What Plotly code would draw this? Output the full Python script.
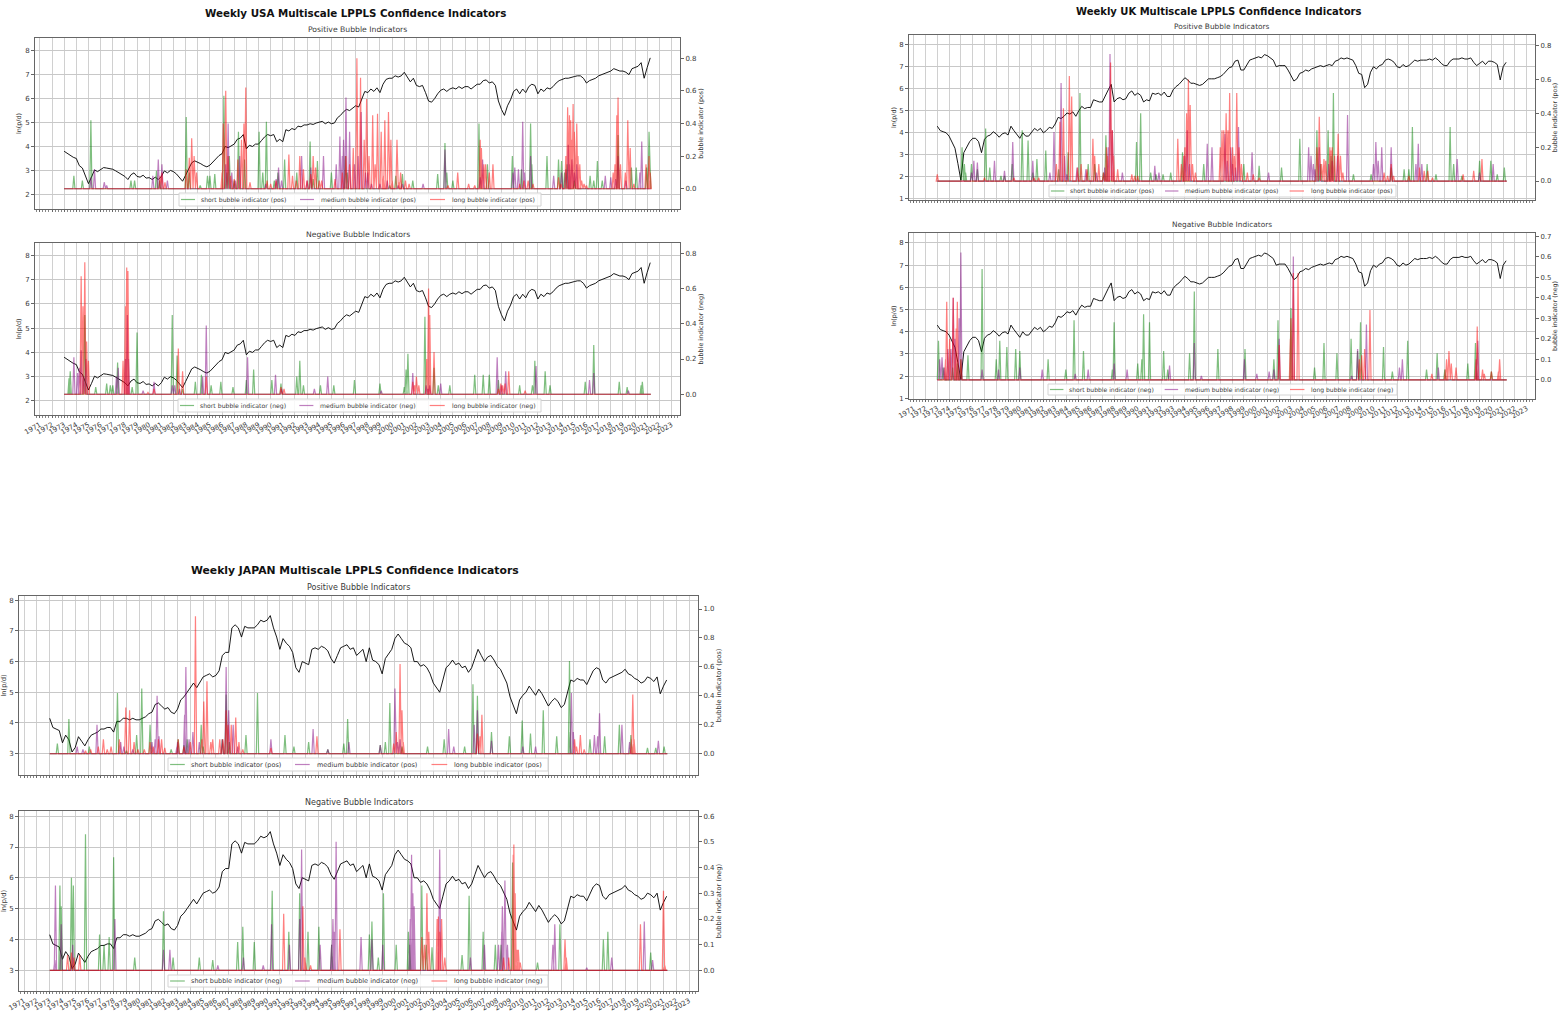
import plotly.graph_objects as go

YEARS = list(range(1971, 2024))
QUARTERS = [1970.75 + 0.25 * i for i in range(213)]
X_START, X_END = 1973.0, 2021.3

usa_price_vals = [3.80,3.72,3.62,3.55, 3.5,3.2,3.1,2.8, 2.45,2.72,3.02,2.95, 3.05,3.12,3.1,3.08, 3.05,2.98,2.9,2.82, 2.75,2.62,2.82,2.9, 2.75,2.72,2.8,2.68, 2.7,2.62,2.72,2.62, 2.75,2.98,2.9,3.0, 2.95,2.85,2.72,2.55, 2.8,3.1,3.32,3.4, 3.35,3.28,3.2,3.15, 3.22,3.35,3.5,3.62, 3.7,4.0,3.95,4.02, 4.1,4.3,4.35,4.5, 3.9,4.05,4.0,4.1, 4.1,4.25,4.4,4.5, 4.45,4.5,4.2,4.3, 4.2,4.7,4.65,4.75, 4.7,4.85,4.82,4.9, 4.9,4.95,4.92,4.98, 5.02,5.05,4.95,5.02, 4.95,4.98,5.2,5.3, 5.45,5.55,5.5,5.62, 5.7,5.65,5.95,6.3, 6.25,6.4,6.3,6.45, 6.25,6.6,6.8,6.85, 6.85,6.95,6.9,6.95, 7.1,6.9,6.7,6.85, 6.55,6.5,6.55,6.25, 5.9,5.85,6.0,6.2, 6.35,6.4,6.3,6.4, 6.45,6.4,6.5,6.42, 6.5,6.5,6.4,6.5, 6.6,6.6,6.75,6.78, 6.65,6.7,6.55,5.9, 5.55,5.3,5.7,5.95, 6.3,6.4,6.2,6.4, 6.25,6.5,6.6,6.55, 6.2,6.4,6.3,6.45, 6.4,6.5,6.65,6.75, 6.8,6.85,6.85,6.9, 6.92,6.95,6.95,6.85, 6.65,6.75,6.8,6.85, 6.95,7.0,7.05,7.1, 7.15,7.25,7.2,7.15, 7.15,7.1,7.0,7.25, 7.3,7.35,7.5,6.85, 7.3,7.7]
uk_price_vals = [4.3,4.1,4.05,4.0, 3.85,3.55,3.3,2.6, 1.85,3.1,3.35,3.6, 3.75,3.75,3.6,3.1, 3.7,3.85,3.9,4.05, 3.95,3.8,3.95,4.0, 3.9,4.3,4.1,3.95, 3.75,4.0,3.85,3.85, 4.05,4.2,4.1,4.2, 4.0,4.1,4.25,4.2, 4.4,4.7,4.65,4.75, 4.9,4.85,4.95,4.75, 5.0,5.2,5.1,5.15, 5.15,5.5,5.45,5.4, 5.4,5.7,5.95,6.2, 5.4,5.55,5.6,5.5, 5.55,5.8,5.9,5.7, 5.8,5.7,5.4,5.5, 5.45,5.8,5.75,5.8, 5.7,5.85,5.65,5.65, 5.95,6.1,6.2,6.35, 6.5,6.4,6.25,6.25, 6.2,6.15,6.2,6.35, 6.45,6.45,6.45,6.5, 6.55,6.65,6.8,6.95, 7.0,7.25,7.3,6.85, 6.85,7.1,7.3,7.35, 7.4,7.45,7.4,7.55, 7.5,7.4,7.3,7.0, 7.05,7.05,7.05,6.85, 6.6,6.35,6.45,6.7, 6.75,6.85,6.8,6.9, 6.95,7.0,7.05,7.0, 7.05,7.1,7.05,7.25, 7.3,7.4,7.35,7.4, 7.35,7.3,7.05,6.7, 6.65,6.05,6.2,6.75, 7.0,6.9,7.05,7.1, 7.3,7.35,7.3,7.2, 7.0,6.95,7.1,7.0, 7.05,7.2,7.3,7.25, 7.3,7.3,7.3,7.35, 7.3,7.4,7.3,7.15, 7.05,7.05,7.25,7.35, 7.35,7.35,7.4,7.35, 7.35,7.4,7.2,7.05, 7.15,7.25,7.1,7.25, 7.25,7.2,7.1,6.4, 7.0,7.2]
japan_price_vals = [4.15,3.85,3.8,3.75, 3.35,3.6,3.45,3.05, 3.2,3.55,3.4,3.25, 3.45,3.6,3.65,3.7, 3.8,3.8,3.85,3.85, 3.7,4.05,4.05,4.15, 4.15,4.1,4.15,4.1, 4.1,4.15,4.2,4.3, 4.35,4.6,4.65,4.55, 4.45,4.5,4.35,4.3, 4.45,4.75,4.85,5.0, 5.15,5.3,5.15,5.35, 5.5,5.55,5.6,5.5, 5.55,5.7,6.2,6.3, 6.3,7.1,7.2,7.1, 6.8,7.15,7.1,7.1, 7.1,7.2,7.35,7.3, 7.35,7.5,7.1,6.8, 6.4,6.75,6.6,6.5, 6.3,5.8,5.65,6.0, 5.95,5.9,6.4,6.45, 6.4,6.5,6.45,6.35, 6.1,5.95,6.2,6.45, 6.5,6.55,6.4,6.45, 6.2,6.3,6.4,6.0, 6.45,6.05,6.0,5.9, 5.6,6.1,6.25,6.4, 6.75,6.9,6.75,6.6, 6.55,6.45,6.0,6.0, 5.85,5.9,5.8,5.6, 5.3,5.15,5.0,5.4, 5.8,5.9,6.05,5.9, 5.95,5.8,5.85,5.65, 5.8,6.1,6.4,6.2, 6.0,6.15,6.2,6.05, 5.85,5.75,5.5,5.3, 4.85,4.6,4.3,4.75, 4.9,5.0,5.2,5.05, 4.9,5.1,4.95,4.75, 4.55,4.7,4.8,4.7, 4.5,4.6,5.0,5.4, 5.35,5.45,5.4,5.4, 5.25,5.5,5.7,5.8, 5.75,5.4,5.3,5.45, 5.5,5.55,5.6,5.65, 5.75,5.6,5.55,5.45, 5.4,5.3,5.35,5.5, 5.45,5.35,5.5,4.95, 5.2,5.4]
price_years = [1973.0 + 0.25 * i for i in range(194)]

usa_pos_short_years = [1973.8,1974.5,1975.2,1978.5,1978.8,1980.6,1980.85,1983.05,1984.8,1985.0,1985.4,1986.15,1986.6,1987.35,1987.85,1989.05,1989.35,1989.65,1990.6,1991.15,1992.15,1993.25,1993.85,1995.0,1996.15,2000.3,2000.85,2001.7,2003.75,2004.35,2005.0,2007.15,2007.85,2009.9,2010.65,2011.4,2012.75,2013.7,2013.95,2016.3,2016.9,2018.6,2019.7,2020.1,2020.95,2021.15, 1983.3,1984.2,1986.4,1987.0,1990.3,1993.5,1996.3,1999.8,2004.5,2011.5,2014.2,2014.4,2015.0,2016.6,2017.3]
usa_pos_short_vals = [.08,.05,.42,.05,.05,.11,.05,.44,.08,.08,.09,.57,.2,.35,.18,.35,.1,.41,.1,.18,.1,.29,.17,.1,.2,.08,.09,.05,.09,.28,.05,.4,.15,.2,.12,.4,.2,.18,.17,.08,.17,.33,.13,.13,.13,.35, .1,.02,.1,.05,.05,.06,.1,.02,.1,.15,.1,.15,.05,.05,.05]
usa_pos_medium_years = [1975.2,1975.5,1976.3,1976.5,1980.3,1980.75,1981.05,1981.5,1986.5,1987.45,1990.45,1990.65,1992.55,1993.3,1994.35,1995.7,1996.2,1996.5,1997.45,1998.0,1999.6,2000.85,2002.55,2004.35,2007.45,2010.1,2010.4,2010.75,2011.4,2013.3,2013.95,2014.5,2014.8,2015.2,2017.55,2018.0,2018.6,2019.25,2020.55, 1986.3,1986.8,1987.1,1989.6,1990.9,1993.0,1995.4,1995.9,1996.0,1996.9,1997.2,1997.8,1998.3,1999.0,2000.5,2007.25,2009.95,2010.9,2014.3,2014.6,2015.0,2018.4,2020.4]
usa_pos_medium_vals = [.07,.12,.04,.02,.08,.18,.15,.05,.4,.2,.06,.13,.2,.13,.2,.32,.56,.35,.47,.1,.05,.03,.03,.24,.18,.13,.12,.41,.2,.08,.1,.27,.18,.15,.08,.07,.2,.05,.29, .15,.1,.05,.03,.05,.05,.15,.2,.3,.15,.2,.1,.03,.03,.02,.07,.1,.1,.12,.15,.1,.06,.1]
usa_pos_long_years = [1980.9,1981.05,1981.3,1983.05,1983.3,1983.5,1983.7,1983.9,1986.1,1986.3,1986.5,1987.3,1987.6,1987.8,1987.95,1990.45,1991.5,1992.4,1993.5,1994.2,1996.2,1997.1,1997.4,1997.9,1998.4,1998.8,1999.1,1999.4,1999.7,1999.9,2000.4,2000.7,2001.1,2005.4,2006.3,2007.25,2007.35,2007.7,2008.0,2008.3,2010.85,2013.7,2014.45,2014.6,2014.7,2014.9,2015.2,2015.45,2015.8,2018.35,2018.5,2018.6,2019.4,2019.6,2021.15, 1986.0,1986.7,1987.0,1988.3,1989.7,1990.0,1991.8,1992.1,1992.7,1993.0,1993.3,1993.7,1994.0,1995.3,1995.9,1996.5,1996.8,1997.7,1998.1,1998.6,1999.3,2000.0,2000.6,2001.4,2004.6,2006.8,2007.55,2010.5,2011.2,2011.6,2013.9,2014.3,2014.8,2015.0,2015.3,2015.6,2016.0,2018.2,2018.8,2019.2,2019.9,2020.9,2021.25]
usa_pos_long_vals = [.08,.1,.04,.12,.19,.31,.2,.1,.4,.6,.2,.18,.3,.4,.62,.05,.21,.2,.2,.05,.2,.8,.68,.55,.45,.46,.35,.42,.47,.3,.3,.1,.05,.1,.03,.3,.25,.15,.1,.15,.05,.07,.5,.45,.42,.52,.4,.15,.03,.15,.45,.56,.42,.25,.2, .1,.08,.06,.04,.05,.03,.08,.05,.12,.05,.09,.13,.05,.06,.1,.15,.25,.3,.2,.15,.08,.05,.04,.03,.02,.02,.15,.03,.05,.03,.03,.2,.3,.35,.2,.05,.02,.1,.15,.1,.03,.15,.1]

usa_neg_short_years = [1973.4,1973.5,1974.7,1975.6,1976.5,1976.8,1977.0,1977.4,1978.6,1979.0,1981.9,1982.3,1982.75,1983.8,1984.3,1985.1,1985.9,1986.9,1988.0,1988.6,1990.1,1990.85,1992.15,1992.4,1992.7,1994.1,1995.2,1996.9,1999.0,2001.15,2001.3,2001.0,2002.7,2003.45,2003.8,2004.75,2006.8,2007.5,2008.0,2008.75,2010.5,2011.55,2011.75,2012.6,2013.0,2015.9,2016.6,2018.7,2019.35,2020.5,2020.6]
usa_neg_short_vals = [.09,.13,.45,.04,.06,.05,.05,.18,.04,.35,.45,.22,.03,.07,.11,.05,.07,.04,.08,.14,.08,.06,.1,.19,.05,.05,.05,.08,.06,.14,.23,.04,.44,.15,.05,.05,.11,.11,.11,.08,.05,.05,.19,.13,.05,.07,.28,.07,.04,.05,.07]
usa_neg_medium_years = [1973.8,1974.1,1974.25,1974.4,1974.6,1974.8,1977.3,1977.45,1978.2,1979.5,1980.4,1981.9,1982.1,1982.5,1984.7,1984.4,1988.1,1990.4,1990.9,1993.6,1994.7,1999.1,2001.7,2002.95,2004.0,2008.65,2009.35,2011.85,2016.25,2016.6,2019.45, 1978.05,1978.3,2002.8,2003.1,2009.0]
usa_neg_medium_vals = [.21,.12,.15,.25,.1,.2,.1,.15,.45,.02,.07,.05,.05,.03,.39,.1,.21,.11,.03,.03,.1,.02,.12,.03,.06,.21,.13,.16,.08,.12,.02, .2,.2,.05,.05,.05]
usa_neg_long_years = [1974.4,1974.55,1974.7,1975.0,1977.85,1978.05,1978.15,1978.25,1979.9,1980.4,1982.4,1982.75,1984.7,1990.85,1991.1,2001.7,2002.0,2002.85,2003.0,2003.1,2003.45,2008.75,2008.95,2009.6,2010.95, 2009.1,2009.3,2001.85,2002.2,1974.85]
usa_neg_long_vals = [.67,.5,.75,.19,.19,.5,.72,.7,.01,.03,.26,.13,.1,.04,.03,.07,.1,.2,.6,.45,.24,.03,.06,.13,.02, .05,.06,.05,.05,.3]

uk_pos_short_years = [1975.1,1975.4,1975.9,1976.4,1977.1,1977.45,1978.4,1978.7,1979.35,1980.2,1980.7,1981.1,1981.45,1982.2,1984.1,1985.1,1985.8,1986.35,1987.3,1989.9,1990.25,1991.1,1991.55,1992.15,1992.8,1993.8,1995.6,1999.0,2000.3,2002.2,2003.75,2005.2,2006.15,2006.6,2008.3,2009.8,2011.5,2012.6,2013.0,2013.3,2014.55,2015.3,2016.5,2016.8,2017.5,2019.0,2019.95,2020.5,2021.1, 1975.3,1983.3,1987.1,2005.5,2006.4,2013.0]
uk_pos_short_vals = [.2,.05,.1,.07,.31,.08,.03,.03,.1,.3,.24,.05,.13,.18,.17,.52,.1,.1,.27,.23,.4,.05,.04,.04,.05,.17,.1,.1,.09,.08,.25,.3,.3,.52,.04,.04,.08,.07,.07,.32,.1,.04,.32,.1,.03,.12,.12,.04,.08, .1,.07,.05,.1,.15,.05]
uk_pos_medium_years = [1975.9,1976.1,1976.4,1977.85,1978.7,1979.4,1981.1,1982.55,1982.9,1983.5,1983.8,1984.85,1985.6,1987.65,1987.85,1988.7,1991.45,1991.8,1994.2,1995.9,1996.3,1997.4,1998.05,1998.55,1999.7,2001.1,2004.5,2004.7,2005.4,2006.2,2006.95,2007.8,2010.2,2010.7,2011.5,2013.8,2014.1,2017.1,2019.0,2020.15, 1984.0,1986.5,1987.2,1987.5,1994.0,1994.4,1997.6,1997.9,1998.3,2004.9,2005.05,2006.5,2010.0,2010.4,2013.6]
uk_pos_medium_vals = [.05,.12,.11,.12,.06,.23,.12,.05,.29,.58,.15,.08,.07,.75,.3,.05,.09,.05,.3,.22,.2,.28,.1,.32,.17,.05,.2,.15,.2,.1,.15,.39,.23,.2,.2,.22,.1,.13,.05,.1, .04,.05,.08,.2,.15,.1,.12,.2,.08,.1,.07,.12,.1,.12,.1]
uk_pos_long_years = [1973.0,1983.1,1983.4,1983.7,1984.2,1984.4,1985.2,1986.2,1986.35,1987.1,1987.35,1987.7,1987.95,1989.75,1993.4,1993.7,1994.15,1994.3,1994.45,1994.65,1997.3,1997.5,1997.8,1998.05,1998.4,1998.6,2005.4,2005.2,2005.8,2006.3,2007.0,2007.2,2006.4,2010.9,2011.5,2014.3,2017.6,2018.5,2019.2, 1977.0,1979.5,1981.2,1981.6,1984.9,1985.7,1986.7,1987.45,1987.85,1988.3,1989.5,1990.0,1993.9,1994.0,1994.9,1997.0,1997.15,1997.65,1998.2,1998.8,1999.3,1999.8,2000.3,2005.6,2005.95,2006.5,2006.7,2007.4,2011.2,2011.7,2013.0,2013.9,2014.6,2015.0]
uk_pos_long_vals = [.04,.1,.35,.43,.62,.5,.1,.25,.15,.05,.2,.7,.15,.03,.25,.1,.4,.6,.45,.1,.3,.4,.52,.2,.52,.2,.38,.2,.13,.2,.28,.15,.18,.05,.1,.06,.04,.06,.13, .02,.02,.02,.02,.08,.07,.1,.15,.3,.07,.04,.03,.15,.2,.05,.2,.3,.3,.15,.1,.05,.04,.02,.1,.12,.2,.15,.05,.03,.03,.03,.08,.06,.02]

uk_neg_short_years = [1973.1,1973.5,1975.6,1976.8,1978.0,1978.3,1978.9,1979.65,1980.0,1982.4,1983.9,1984.6,1985.4,1987.85,1988.0,1990.0,1990.35,1990.5,1991.0,1992.2,1992.55,1994.4,1994.8,1996.8,1999.1,2001.55,2001.9,2003.0,2005.0,2005.8,2006.9,2008.1,2008.65,2008.9,2010.85,2011.6,2012.9,2014.5,2015.4,2016.05,2018.0,2018.65,2020.0, 1974.3,1974.7,1975.0]
uk_neg_short_vals = [.19,.06,.12,.54,.1,.19,.16,.15,.14,.1,.05,.29,.14,.05,.28,.08,.1,.32,.28,.14,.05,.13,.43,.15,.15,.1,.29,.35,.06,.18,.13,.2,.14,.28,.16,.04,.19,.05,.13,.05,.08,.18,.04, .06,.08,.1]
uk_neg_medium_years = [1973.2,1973.4,1973.9,1974.35,1975.0,1976.8,1978.2,1980.0,1981.9,1984.7,1985.8,1988.0,1989.1,1992.7,1994.8,1995.4,1999.05,2000.1,2001.15,2001.55,2002.0,2003.2,2008.15,2008.65,2009.4,2012.2,2012.45,2015.5,2018.75,2018.85, 1973.6,1974.15,1974.5,1974.85]
uk_neg_medium_vals = [.1,.11,.15,.4,.62,.05,.05,.06,.05,.03,.05,.08,.05,.07,.18,.02,.1,.03,.04,.05,.2,.6,.02,.15,.27,.06,.1,.06,.1,.19, .06,.15,.2,.3]
uk_neg_long_years = [1973.7,1973.8,1974.05,1974.35,1974.6,1974.7,1975.0,2002.0,2002.95,2003.2,2003.6,2008.8,2009.0,2009.25,2009.7,2014.95,2016.1,2016.4,2017.0,2018.8,2019.25,2020.7, 2003.0,2003.1,2016.2,2016.6,2018.7,2019.4,2020.0,2020.6]
uk_neg_long_vals = [.1,.38,.2,.4,.25,.38,.1,.17,.2,.52,.52,.1,.12,.15,.34,.03,.05,.14,.06,.26,.05,.1, .3,.15,.1,.08,.1,.03,.04,.04]

japan_pos_short_years = [1973.6,1974.5,1976.1,1978.3,1979.8,1980.2,1980.85,1982.5,1983.05,1983.75,1984.85,1986.8,1988.35,1989.25,1991.4,1992.1,1993.25,1994.75,1996.0,1996.3,1998.85,1999.25,1999.6,2000.55,2002.55,2003.85,2005.45,2006.1,2006.45,2007.55,2008.95,2009.95,2010.6,2011.6,2012.65,2013.65,2015.25,2016.4,2017.55,2018.45,2019.75,2020.4,2021.05, 1979.0,1983.5,1985.0,1986.5,1987.05,2013.7]
japan_pos_short_vals = [.07,.24,.05,.42,.13,.45,.2,.03,.1,.1,.2,.41,.13,.42,.13,.05,.08,.03,.07,.24,.06,.08,.35,.05,.05,.1,.05,.48,.4,.15,.12,.23,.14,.3,.12,.64,.1,.12,.2,.13,.04,.04,.05, .02,.06,.05,.1,.08,.15]
japan_pos_medium_years = [1975.15,1976.7,1978.55,1981.25,1981.4,1982.95,1983.55,1983.65,1984.2,1986.8,1987.0,1987.35,1990.3,1993.6,1994.75,1996.4,1998.85,2000.0,2000.4,2004.2,2004.6,2006.45,2007.55,2010.0,2011.0,2013.8,2015.6,2016.0,2017.75,2018.35,2020.6, 1975.6,1978.8,1979.5,1981.0,1981.55,1983.0,1983.9,1984.7,1986.5,1987.7,2000.2,2006.2,2013.95,2015.85]
japan_pos_medium_vals = [.05,.2,.08,.1,.4,.05,.27,.6,.15,.6,.3,.2,.1,.17,.03,.08,.06,.45,.1,.17,.05,.3,.09,.05,.05,.42,.13,.28,.2,.08,.09, .03,.05,.03,.08,.12,.08,.1,.08,.1,.05,.08,.2,.15,.12]
japan_pos_long_years = [1977.2,1977.8,1978.45,1978.95,1979.25,1979.6,1980.85,1981.75,1983.05,1984.4,1985.05,1985.3,1985.75,1986.3,1986.8,1987.55,1993.9,2000.1,2000.4,2000.55,2006.45,2006.8,2014.05,2014.5,2018.6, 1975.8,1976.2,1976.8,1977.5,1979.9,1980.4,1981.1,1981.5,1982.0,1983.5,1984.0,1984.9,1985.6,1986.55,1986.95,1987.2,1987.8,1988.1,1990.3,1999.9,2000.65,2006.65,2014.2,2014.8,2018.5,2018.7]
japan_pos_long_vals = [.1,.05,.1,.32,.3,.08,.08,.1,.1,.95,.36,.5,.1,.1,.3,.25,.12,.15,.62,.3,.14,.27,.1,.13,.41, .02,.03,.05,.03,.03,.03,.05,.1,.04,.05,.08,.1,.08,.1,.2,.2,.08,.03,.04,.07,.08,.12,.05,.03,.1,.1]

japan_neg_short_years = [1973.8,1973.9,1974.7,1974.85,1975.8,1976.9,1977.25,1977.65,1978.0,1979.65,1981.9,1982.65,1984.7,1985.75,1987.7,1988.1,1989.0,1990.4,1991.7,1992.55,1993.2,1994.05,1995.05,1998.0,1998.2,1998.7,1999.1,2000.1,2002.1,2002.45,2002.9,2005.25,2005.8,2006.9,2007.85,2008.3,2009.2,2011.15,2012.9,2016.3,2016.65,2020.0, 2001.15,2001.05]
japan_neg_short_vals = [.33,.25,.36,.33,.53,.14,.1,.13,.44,.05,.23,.05,.05,.04,.11,.17,.11,.31,.15,.3,.15,.17,.1,.14,.19,.05,.3,.1,.33,.1,.09,.06,.29,.15,.1,.1,.42,.03,.18,.12,.15,.07, .1,.15]
japan_neg_medium_years = [1973.4,1973.45,1973.9,1974.8,1978.1,1981.9,1982.4,1986.15,1988.15,1989.7,1990.35,1991.75,1992.55,1992.7,1994.15,1995.15,1995.4,1997.35,1998.2,1999.05,2001.3,2001.5,2003.5,2005.9,2007.0,2008.1,2008.35,2008.6,2012.5,2015.0,2016.95,2019.5,2020.15, 2001.4,2001.2,2008.4,2008.8,2012.35,1995.25,1995.05]
japan_neg_medium_vals = [.04,.33,.18,.1,.2,.08,.08,.02,.05,.02,.18,.1,.2,.47,.1,.2,.5,.13,.12,.1,.45,.25,.47,.05,.1,.1,.15,.35,.18,.01,.05,.19,.04, .3,.2,.25,.1,.1,.15,.1]
japan_neg_long_years = [1974.4,1974.7,1974.9,1975.35,1991.3,1992.8,1993.4,1995.7,2002.1,2002.5,2003.3,2003.4,2003.65,2003.9,2008.5,2009.25,2009.3,2009.55,2013.3,2019.2,2021.0, 1992.95,1993.0,2002.3,2002.65,2003.5,2009.4,2009.65,2009.8,2008.9,2013.4,2021.1]
japan_neg_long_vals = [.06,.07,.05,.06,.22,.25,.02,.16,.13,.3,.2,.21,.2,.05,.05,.45,.49,.08,.12,.18,.31, .05,.03,.1,.15,.15,.3,.08,.03,.05,.05,.02]

COL_SHORT = "rgba(0,128,0,0.5)"
COL_MEDIUM = "rgba(128,0,128,0.5)"
COL_LONG = "rgba(255,0,0,0.5)"
W, H = 1564, 1013
SPIKE = 0.09
TXT = "#3a3a3a"
FONT = "DejaVu Sans"
SPINE = "#666666"


def spikes(years, vals):
    xs, ys = [X_START], [0.0]
    for yr, v in sorted(zip(years, vals)):
        xs += [yr - SPIKE, yr, yr + SPIKE]
        ys += [0.0, v, 0.0]
    xs.append(X_END)
    ys.append(0.0)
    return xs, ys


USA = dict(tick=7.0, label=6.4, leg=6.15, sub=7.7)
UK = dict(tick=6.9, label=6.3, leg=6.05, sub=7.4)
JP = dict(tick=7.0, label=6.7, leg=6.5, sub=8.0)
panels = [
    dict(box=(35, 680, 38, 209), y1=(1.39, 8.53), y2=(-0.124, 0.924), y2t=[0, .2, .4, .6, .8],
         y1t=[2, 3, 4, 5, 6, 7, 8], kind="pos", sub="Positive Bubble Indicators", labels=False, legend=(179, 541, 193, 206), s=USA,
         price=usa_price_vals,
         data=[(usa_pos_short_years, usa_pos_short_vals), (usa_pos_medium_years, usa_pos_medium_vals), (usa_pos_long_years, usa_pos_long_vals)]),
    dict(box=(35, 680, 243, 415), y1=(1.42, 8.51), y2=(-0.118, 0.859), y2t=[0, .2, .4, .6, .8],
         y1t=[2, 3, 4, 5, 6, 7, 8], kind="neg", sub="Negative Bubble Indicators", labels=True, legend=(178, 541, 399, 412), s=USA,
         price=usa_price_vals,
         data=[(usa_neg_short_years, usa_neg_short_vals), (usa_neg_medium_years, usa_neg_medium_vals), (usa_neg_long_years, usa_neg_long_vals)]),
    dict(box=(909, 1535, 35, 200), y1=(0.95, 8.44), y2=(-0.112, 0.863), y2t=[0, .2, .4, .6, .8],
         y1t=[1, 2, 3, 4, 5, 6, 7, 8], kind="pos", sub="Positive Bubble Indicators", labels=False, legend=(1049, 1396, 185, 197), s=UK,
         price=uk_price_vals,
         data=[(uk_pos_short_years, uk_pos_short_vals), (uk_pos_medium_years, uk_pos_medium_vals), (uk_pos_long_years, uk_pos_long_vals)]),
    dict(box=(909, 1535, 233, 399), y1=(0.97, 8.45), y2=(-0.093, 0.715), y2t=[0, .1, .2, .3, .4, .5, .6, .7],
         y1t=[1, 2, 3, 4, 5, 6, 7, 8], kind="neg", sub="Negative Bubble Indicators", labels=True, legend=(1048, 1397, 384, 395), s=UK,
         price=uk_price_vals,
         data=[(uk_neg_short_years, uk_neg_short_vals), (uk_neg_medium_years, uk_neg_medium_vals), (uk_neg_long_years, uk_neg_long_vals)]),
    dict(box=(19, 698, 596, 775), y1=(2.30, 8.14), y2=(-0.147, 1.09), y2t=[0, .2, .4, .6, .8, 1.0],
         y1t=[3, 4, 5, 6, 7, 8], kind="pos", sub="Positive Bubble Indicators", labels=False, legend=(168, 548, 758, 771), s=JP,
         price=japan_price_vals,
         data=[(japan_pos_short_years, japan_pos_short_vals), (japan_pos_medium_years, japan_pos_medium_vals), (japan_pos_long_years, japan_pos_long_vals)]),
    dict(box=(19, 698, 811, 991), y1=(2.32, 8.17), y2=(-0.08, 0.62), y2t=[0, .1, .2, .3, .4, .5, .6],
         y1t=[3, 4, 5, 6, 7, 8], kind="neg", sub="Negative Bubble Indicators", labels=True, legend=(168, 548, 975, 987), s=JP,
         price=japan_price_vals,
         data=[(japan_neg_short_years, japan_neg_short_vals), (japan_neg_medium_years, japan_neg_medium_vals), (japan_neg_long_years, japan_neg_long_vals)]),
]
fig_titles = [("Weekly USA Multiscale LPPLS Confidence Indicators", 355, 13, 10.3),
              ("Weekly UK Multiscale LPPLS Confidence Indicators", 1218, 11, 10.0),
              ("Weekly JAPAN Multiscale LPPLS Confidence Indicators", 355, 570, 10.8)]

fig = go.Figure()
annotations, shapes = [], []
layout = dict(
    width=W, height=H, autosize=False, margin=dict(l=0, r=0, t=0, b=0, autoexpand=False), showlegend=False,
    paper_bgcolor="white", plot_bgcolor="white", font=dict(family=FONT, size=7, color=TXT),
)
LEGEND_SLOTS = [(2, 16, 20), (121, 135, 140), (251, 266, 271)]

for i, p in enumerate(panels):
    n = i + 1
    xa, ya, yb = 2 * n - 1, 2 * n - 1, 2 * n
    xname = "xaxis" if xa == 1 else f"xaxis{xa}"
    xref = "x" if xa == 1 else f"x{xa}"
    y1name = "yaxis" if ya == 1 else f"yaxis{ya}"
    y1ref = "y" if ya == 1 else f"y{ya}"
    y2name, y2ref = f"yaxis{yb}", f"y{yb}"
    l, r, t, b = p["box"]
    fs = p["s"]["tick"]
    lab = p["s"]["label"]
    leg = p["s"]["leg"]

    layout[xname] = dict(
        domain=[l / W, r / W], range=[1970.6, 2023.7], anchor=y1ref, tickmode="array", tickvals=YEARS,
        ticktext=[str(y) for y in YEARS], showticklabels=p["labels"],
        tickangle=-30, ticks="outside", ticklen=2, tickcolor=SPINE, tickwidth=1,
        tickfont=dict(size=fs, color=TXT), showgrid=True, gridcolor="#d0d0d0", gridwidth=1,
        minor=dict(tickmode="array", tickvals=QUARTERS, ticks="outside", ticklen=2, tickcolor="#888888", showgrid=False),
        zeroline=False, showline=True, linecolor=SPINE, linewidth=1, mirror=True,
    )
    layout[y1name] = dict(
        domain=[1 - b / H, 1 - t / H], range=list(p["y1"]), anchor=xref, tickvals=p["y1t"],
        ticks="outside", ticklen=3, tickcolor=SPINE, tickfont=dict(size=fs, color=TXT),
        showgrid=True, gridcolor="#c8c8c8", gridwidth=1.2, zeroline=False, showline=True, linecolor=SPINE,
        title=dict(text="ln(p/d)", font=dict(size=lab, color=TXT), standoff=2),
    )
    layout[y2name] = dict(
        range=list(p["y2"]), overlaying=y1ref, anchor=xref, side="right", tickvals=p["y2t"],
        tickformat=".1f", ticks="outside", ticklen=3, tickcolor=SPINE, tickfont=dict(size=fs, color=TXT),
        showgrid=False, zeroline=False, showline=True, linecolor=SPINE,
        title=dict(text=f"bubble indicator ({p['kind']})", font=dict(size=lab, color=TXT), standoff=2),
    )
    fig.add_trace(go.Scatter(x=price_years, y=p["price"], mode="lines", xaxis=xref, yaxis=y1ref,
                             name="ln(p/d)", line=dict(color="black", width=0.9), hoverinfo="skip"))
    lx0, lx1, ly0, ly1 = p["legend"]
    k = (lx1 - lx0) / 362
    ymid = (ly0 + ly1) / 2
    shapes.append(dict(type="rect", xref="paper", yref="paper", x0=lx0 / W, x1=lx1 / W, y0=1 - ly1 / H, y1=1 - ly0 / H,
                       line=dict(color="#d4d4d4", width=1), fillcolor="rgba(255,255,255,0.85)", layer="above"))
    for (yrs, vals), name, col, slot in zip(p["data"], ("short", "medium", "long"), (COL_SHORT, COL_MEDIUM, COL_LONG), LEGEND_SLOTS):
        xs, ys = spikes(yrs, vals)
        label = f"{name} bubble indicator ({p['kind']})"
        fig.add_trace(go.Scatter(x=xs, y=ys, mode="lines", xaxis=xref, yaxis=y2ref, name=label, line=dict(color=col, width=1.2)))
        shapes.append(dict(type="line", xref="paper", yref="paper", x0=(lx0 + slot[0] * k) / W, x1=(lx0 + slot[1] * k) / W,
                           y0=1 - ymid / H, y1=1 - ymid / H, line=dict(color=col, width=1.2), layer="above"))
        annotations.append(dict(text=label, xref="paper", yref="paper", x=(lx0 + slot[2] * k) / W, y=1 - ymid / H,
                                xanchor="left", yanchor="middle", showarrow=False, font=dict(size=leg, color=TXT)))
    annotations.append(dict(text=p["sub"], xref="paper", yref="paper", x=(l + r) / 2 / W, y=1 - (t - 2) / H,
                            xanchor="center", yanchor="bottom", showarrow=False, font=dict(size=p["s"]["sub"], color=TXT)))

for text, x, y, size in fig_titles:
    annotations.append(dict(text=f"<b>{text}</b>", xref="paper", yref="paper", x=x / W, y=1 - y / H,
                            xanchor="center", yanchor="middle", showarrow=False, font=dict(size=size, color="#111111")))
layout["annotations"] = annotations
layout["shapes"] = shapes
fig.update_layout(**layout)
fig.write_html("out.html", config={"displayModeBar": False}, post_script="document.body.style.margin='0';")
